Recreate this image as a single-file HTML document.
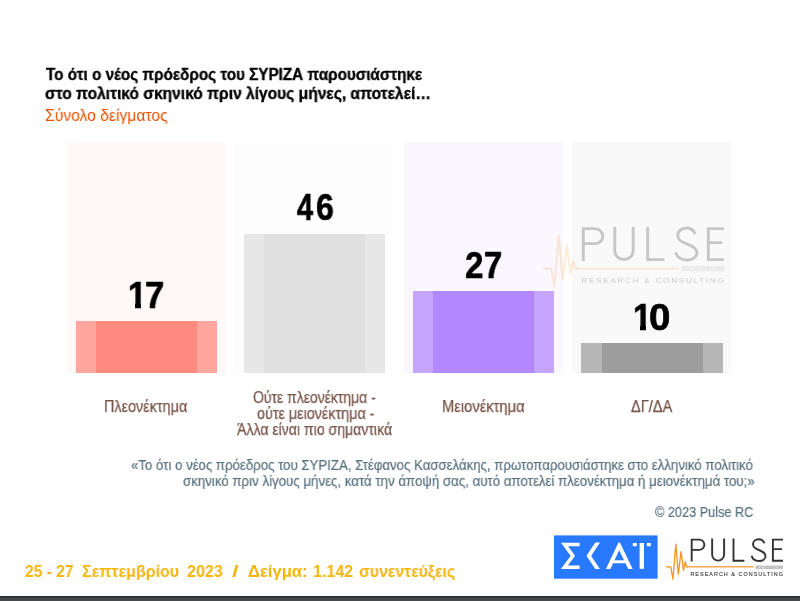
<!DOCTYPE html>
<html><head><meta charset="utf-8"><title>Pulse RC</title>
<style>
html,body{margin:0;padding:0;background:#fff;}
body{width:800px;height:601px;position:relative;overflow:hidden;font-family:"Liberation Sans",sans-serif;}
.t{position:absolute;white-space:nowrap;line-height:1;transform-origin:0 0;will-change:transform;}
.r{position:absolute;}
svg{position:absolute;left:0;top:0;will-change:transform;}
</style></head><body>

<div class="r" style="left:66.5px;top:142px;width:159.2px;height:231px;background:#fff8f8"></div>
<div class="r" style="left:75.6px;top:321.3px;width:141.3px;height:51.7px;background:#ffa79f"></div>
<div class="r" style="left:95.7px;top:321.3px;width:101px;height:51.7px;background:#ff8a80"></div>
<div class="r" style="left:235.0px;top:142px;width:159.2px;height:231px;background:#fdfdfd"></div>
<div class="r" style="left:244.1px;top:233.7px;width:141.3px;height:139.3px;background:#e7e7e7"></div>
<div class="r" style="left:264.2px;top:233.7px;width:101px;height:139.3px;background:#e0e0e0"></div>
<div class="r" style="left:403.7px;top:142px;width:159.2px;height:231px;background:#faf7ff"></div>
<div class="r" style="left:412.8px;top:290.8px;width:141.3px;height:82.2px;background:#c6a5ff"></div>
<div class="r" style="left:432.9px;top:290.8px;width:101px;height:82.2px;background:#b388ff"></div>
<div class="r" style="left:572.3px;top:142px;width:159.2px;height:231px;background:#f9f9f9"></div>
<div class="r" style="left:581.4px;top:342.5px;width:141.3px;height:30.5px;background:#b6b6b6"></div>
<div class="r" style="left:601.5px;top:342.5px;width:101px;height:30.5px;background:#9e9e9e"></div>
<svg width="800" height="601" viewBox="0 0 800 601">
<g opacity="0.25" transform="translate(-481.93,-564.64) scale(1.54,1.47)"><g fill="none" stroke="#f7941d" stroke-opacity="0.7" stroke-width="1.3" stroke-linejoin="round"><path d="M665.8,566.8 L670.8,566.8 L672.9,579.1 L675.8,544.2 L678.3,574.1 L681,551.6 L683.5,570.4 L685.2,561.6 L686.6,566.8 L688,566.8"/><path stroke="#f8a850" stroke-width="1.6" d="M687,566.8 H753.8"/></g><rect x="755.5" y="565.1" width="27.6" height="3.7" fill="#e6e6e6"/><g fill="none" stroke="#333333" stroke-width="1.9" stroke-linecap="butt" stroke-linejoin="miter"><path d="M691.7,561.6 V538.7 M691.7,539.6 H699.2 A5.15,5.15 0 0 1 699.2,549.9 H691.7"/><path d="M712.15,538.5 V554.7 A5.975,5.975 0 0 0 724.1,554.7 V538.5"/><path d="M733.5,538.5 V560.7 H744.4"/><path d="M764.3,543.3 C763.6,540.8 761.4,539.2 758.6,539.2 C755.4,539.2 753,541.4 753,544.3 C753,547.2 755,548.6 758.8,550 C762.8,551.5 765.5,553 765.5,556 C765.5,559 762.6,561 759,561 C755.2,561 752.4,558.8 751.6,555.8"/><path d="M783,539.6 H772.9 V560.7 H783 M772.9,549.1 H782"/></g><g transform="translate(755.7,568.5) scale(0.1)"><text x="0" y="0" font-family="Liberation Sans, sans-serif" font-weight="bold" font-size="43" fill="#bdbdbd" stroke="#bdbdbd" stroke-width="4" textLength="273" lengthAdjust="spacingAndGlyphs">KOSMON</text></g><g transform="translate(690.4,576.3) scale(0.1)"><text x="0" y="0" font-family="Liberation Sans, sans-serif" font-weight="normal" font-size="54" fill="#404040" stroke="#404040" stroke-width="0" textLength="926" lengthAdjust="spacing">RESEARCH &amp; CONSULTING</text></g></g>
<rect x="554" y="535.4" width="103.6" height="43.3" fill="#2979ff"/>
<clipPath id="sk"><rect x="556" y="542.6" width="100" height="26.3"/></clipPath>
<g fill="none" stroke="#fff" stroke-linejoin="miter" stroke-miterlimit="10" clip-path="url(#sk)">
<path stroke-width="3.6" d="M579.6,544.4 H564.4 L572.9,555.8 L564.4,567.2 H579.6"/>
<path stroke-width="3.9" d="M599.6,539.6 L588.8,555.8 L599.6,572"/>
<path stroke-width="4" d="M606.7,572 L619.2,545.6 L631.9,572"/><path stroke-width="3" d="M612,561.8 H626.4"/>
</g>
<rect x="639.6" y="543" width="4.4" height="25.8" fill="#fff"/><rect x="632.8" y="543" width="4" height="3.2" fill="#fff"/><rect x="646.8" y="543" width="4" height="3.2" fill="#fff"/>
<g fill="none" stroke="#f7941d" stroke-opacity="1" stroke-width="1.3" stroke-linejoin="round"><path d="M665.8,566.8 L670.8,566.8 L672.9,579.1 L675.8,544.2 L678.3,574.1 L681,551.6 L683.5,570.4 L685.2,561.6 L686.6,566.8 L688,566.8"/><path stroke="#f8a850" stroke-width="1.6" d="M687,566.8 H753.8"/></g><rect x="755.5" y="565.1" width="27.6" height="3.7" fill="#e6e6e6"/><g fill="none" stroke="#333333" stroke-width="1.9" stroke-linecap="butt" stroke-linejoin="miter"><path d="M691.7,561.6 V538.7 M691.7,539.6 H699.2 A5.15,5.15 0 0 1 699.2,549.9 H691.7"/><path d="M712.15,538.5 V554.7 A5.975,5.975 0 0 0 724.1,554.7 V538.5"/><path d="M733.5,538.5 V560.7 H744.4"/><path d="M764.3,543.3 C763.6,540.8 761.4,539.2 758.6,539.2 C755.4,539.2 753,541.4 753,544.3 C753,547.2 755,548.6 758.8,550 C762.8,551.5 765.5,553 765.5,556 C765.5,559 762.6,561 759,561 C755.2,561 752.4,558.8 751.6,555.8"/><path d="M783,539.6 H772.9 V560.7 H783 M772.9,549.1 H782"/></g><g transform="translate(755.7,568.5) scale(0.1)"><text x="0" y="0" font-family="Liberation Sans, sans-serif" font-weight="bold" font-size="43" fill="#bdbdbd" stroke="#bdbdbd" stroke-width="4" textLength="273" lengthAdjust="spacingAndGlyphs">KOSMON</text></g><g transform="translate(690.4,576.3) scale(0.1)"><text x="0" y="0" font-family="Liberation Sans, sans-serif" font-weight="normal" font-size="54" fill="#404040" stroke="#404040" stroke-width="1.4" textLength="926" lengthAdjust="spacing">RESEARCH &amp; CONSULTING</text></g>
</svg>
<div class="t" style="left:45.85px;top:67.06px;font-size:16px;font-weight:bold;color:#000;-webkit-text-stroke:0.35px #000;transform:scaleX(0.9539)">Το ότι ο νέος πρόεδρος του ΣΥΡΙΖΑ παρουσιάστηκε</div>
<div class="t" style="left:45.10px;top:85.86px;font-size:16px;font-weight:bold;color:#000;-webkit-text-stroke:0.35px #000;transform:scaleX(0.9733)">στο πολιτικό σκηνικό πριν λίγους μήνες, αποτελεί…</div>
<div class="t" style="left:44.57px;top:107.71px;font-size:16px;font-weight:normal;color:#e65100;transform:scaleX(0.9795)">Σύνολο δείγματος</div>
<div class="t" style="left:127.56px;top:277.38px;font-size:37px;font-weight:bold;color:#000;-webkit-text-stroke:0.7px #000;transform:scaleX(0.9087)">1</div>
<div class="t" style="left:145.31px;top:277.38px;font-size:37px;font-weight:bold;color:#000;-webkit-text-stroke:0.7px #000;transform:scaleX(0.9353)">7</div>
<div class="t" style="left:297.49px;top:189.38px;font-size:37px;font-weight:bold;color:#000;-webkit-text-stroke:0.7px #000;transform:scaleX(0.7806)">4</div>
<div class="t" style="left:315.98px;top:189.38px;font-size:37px;font-weight:bold;color:#000;-webkit-text-stroke:0.7px #000;transform:scaleX(0.8666)">6</div>
<div class="t" style="left:465.00px;top:247.38px;font-size:37px;font-weight:bold;color:#000;-webkit-text-stroke:0.7px #000;transform:scaleX(0.8937)">2</div>
<div class="t" style="left:483.88px;top:247.38px;font-size:37px;font-weight:bold;color:#000;-webkit-text-stroke:0.7px #000;transform:scaleX(0.8803)">7</div>
<div class="t" style="left:633.06px;top:299.18px;font-size:37px;font-weight:bold;color:#000;-webkit-text-stroke:0.7px #000;transform:scaleX(0.9087)">1</div>
<div class="t" style="left:649.22px;top:299.18px;font-size:37px;font-weight:bold;color:#000;-webkit-text-stroke:0.7px #000;transform:scaleX(1.0395)">0</div>
<div class="t" style="left:104.28px;top:399.06px;font-size:16px;font-weight:normal;color:#795548;-webkit-text-stroke:0.25px #795548;transform:scaleX(0.9000)">Πλεονέκτημα</div>
<div class="t" style="left:253.23px;top:389.86px;font-size:16px;font-weight:normal;color:#795548;-webkit-text-stroke:0.25px #795548;transform:scaleX(0.8718)">Ούτε πλεονέκτημα -</div>
<div class="t" style="left:257.08px;top:406.06px;font-size:16px;font-weight:normal;color:#795548;-webkit-text-stroke:0.25px #795548;transform:scaleX(0.8969)">ούτε μειονέκτημα -</div>
<div class="t" style="left:237.19px;top:422.36px;font-size:16px;font-weight:normal;color:#795548;-webkit-text-stroke:0.25px #795548;transform:scaleX(0.8801)">Άλλα είναι πιο σημαντικά</div>
<div class="t" style="left:441.66px;top:398.86px;font-size:16px;font-weight:normal;color:#795548;-webkit-text-stroke:0.25px #795548;transform:scaleX(0.9210)">Μειονέκτημα</div>
<div class="t" style="left:631.43px;top:398.86px;font-size:16px;font-weight:normal;color:#795548;-webkit-text-stroke:0.25px #795548;transform:scaleX(0.9088)">ΔΓ/ΔΑ</div>
<div class="t" style="left:131.16px;top:457.00px;font-size:15px;font-weight:normal;color:#58727f;-webkit-text-stroke:0.2px #58727f;transform:scaleX(0.8815)">«Το ότι ο νέος πρόεδρος του ΣΥΡΙΖΑ, Στέφανος Κασσελάκης, πρωτοπαρουσιάστηκε στο ελληνικό πολιτικό</div>
<div class="t" style="left:182.70px;top:472.50px;font-size:15px;font-weight:normal;color:#58727f;-webkit-text-stroke:0.2px #58727f;transform:scaleX(0.8856)">σκηνικό πριν λίγους μήνες, κατά την άποψή σας, αυτό αποτελεί πλεονέκτημα ή μειονέκτημά του;»</div>
<div class="t" style="left:655.19px;top:504.05px;font-size:15px;font-weight:normal;color:#58727f;-webkit-text-stroke:0.2px #58727f;transform:scaleX(0.8466)">© 2023 Pulse RC</div>
<div class="t" style="left:25.03px;top:562.63px;font-size:16.5px;font-weight:bold;color:#f4b50f;transform:scaleX(0.9453)">25 - 27</div>
<div class="t" style="left:82.20px;top:562.63px;font-size:16.5px;font-weight:bold;color:#f4b50f;transform:scaleX(0.9690)">Σεπτεμβρίου</div>
<div class="t" style="left:187.31px;top:562.63px;font-size:16.5px;font-weight:bold;color:#f4b50f;transform:scaleX(0.9766)">2023</div>
<div class="t" style="left:232.13px;top:562.63px;font-size:16.5px;font-weight:bold;color:#f4b50f;transform:scaleX(1.4397)">/</div>
<div class="t" style="left:247.91px;top:562.63px;font-size:16.5px;font-weight:bold;color:#f4b50f;transform:scaleX(1.0064)">Δείγμα:</div>
<div class="t" style="left:313.07px;top:562.63px;font-size:16.5px;font-weight:bold;color:#f4b50f;transform:scaleX(0.9734)">1.142</div>
<div class="t" style="left:359.05px;top:562.63px;font-size:16.5px;font-weight:bold;color:#f4b50f;transform:scaleX(0.9588)">συνεντεύξεις</div>
<div class="r" style="left:128px;top:302.6px;width:7px;height:7px;background:#fff8f8"></div>
<div class="r" style="left:141px;top:302.6px;width:6px;height:7px;background:#fff8f8"></div>
<div class="r" style="left:633px;top:324.6px;width:7px;height:7px;background:#f9f9f9"></div>
<div class="r" style="left:646px;top:324.6px;width:6.3px;height:7px;background:#f9f9f9"></div>
<div class="r" style="left:0;top:595.6px;width:800px;height:6px;background:linear-gradient(#292b2d 0,#292b2d 1.2px,#3b3e41 1.6px,#4e5154 100%)"></div>
</body></html>
